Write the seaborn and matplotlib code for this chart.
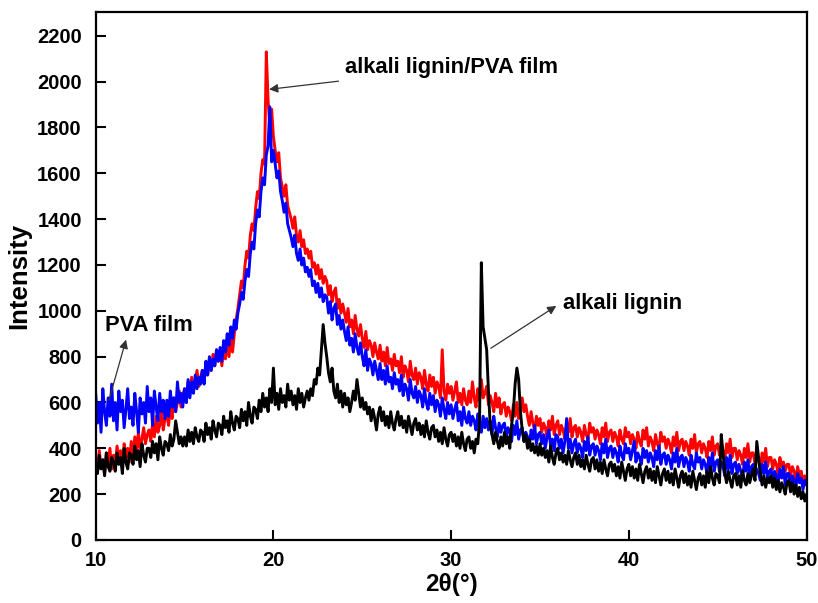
import numpy as np
import pandas as pd
import seaborn as sns
import matplotlib
matplotlib.use("Agg")
import matplotlib.pyplot as plt

two_theta = np.round(np.arange(10, 50.001, 0.1), 2)

# PVA film (blue), one row per degree
pva_film = [
    640, 510, 600, 470, 660, 560, 500, 620, 540, 680,
    520, 600, 480, 650, 560, 610, 490, 570, 660, 530,
    580, 500, 640, 560, 470, 620, 550, 600, 510, 670,
    560, 620, 500, 650, 580, 520, 640, 560, 610, 530,
    610, 540, 650, 580, 620, 560, 690, 600, 640, 580,
    660, 600, 700, 620, 690, 640, 720, 660, 710, 680,
    740, 680, 780, 720, 800, 740, 790, 760, 830, 780,
    840, 780, 870, 820, 900, 850, 930, 880, 960, 920,
    990, 1030, 1080, 1050, 1130, 1180, 1150, 1250, 1300, 1270,
    1380, 1440, 1410, 1520, 1580, 1550, 1680, 1720, 1890, 1650,
    1700, 1640, 1580, 1610, 1520, 1480, 1430, 1470, 1380, 1350,
    1320, 1280, 1330, 1250, 1220, 1270, 1200, 1230, 1170, 1190,
    1150, 1180, 1110, 1130, 1080, 1120, 1060, 1100, 1040, 1070,
    1060, 990, 1040, 960, 1010, 1030, 940, 980, 920, 960,
    910, 870, 930, 850, 880, 820, 900, 840, 810, 860,
    800, 760, 830, 740, 790, 770, 720, 780, 740, 700,
    770, 700, 740, 680, 760, 690, 710, 660, 730, 680,
    700, 650, 720, 630, 680, 660, 610, 700, 640, 620,
    670, 600, 650, 630, 580, 660, 600, 570, 640, 590,
    630, 560, 610, 590, 540, 620, 570, 530, 600, 550,
    590, 530, 570, 600, 520, 560, 500, 580, 530, 510,
    560, 500, 540, 520, 480, 550, 500, 470, 540, 490,
    530, 480, 520, 460, 540, 490, 450, 510, 470, 500,
    510, 450, 490, 470, 430, 500, 460, 520, 440, 480,
    490, 430, 470, 450, 410, 480, 440, 500, 420, 460,
    470, 420, 460, 400, 450, 480, 410, 440, 390, 460,
    450, 400, 440, 380, 430, 530, 400, 440, 380, 420,
    440, 380, 420, 400, 360, 430, 390, 450, 370, 410,
    420, 370, 410, 390, 350, 420, 380, 440, 360, 400,
    410, 360, 400, 380, 340, 410, 370, 350, 420, 380,
    400, 350, 390, 430, 340, 380, 360, 330, 400, 360,
    390, 340, 380, 360, 320, 390, 350, 410, 330, 370,
    380, 330, 370, 350, 310, 380, 340, 400, 320, 360,
    370, 320, 360, 340, 300, 370, 330, 310, 380, 340,
    360, 310, 350, 330, 290, 360, 320, 380, 300, 340,
    350, 300, 340, 320, 280, 360, 310, 370, 290, 330,
    340, 290, 330, 300, 270, 340, 300, 350, 280, 320,
    330, 280, 310, 290, 260, 330, 290, 340, 270, 300,
    310, 260, 300, 280, 250, 310, 270, 320, 240, 290,
    290, 240, 280, 260, 230, 290, 250, 270, 220, 260,
    240,
]

# alkali lignin/PVA film (red)
lignin_pva_film = [
    360, 300, 390, 320, 350, 290, 380, 330, 400, 310,
    370, 330, 410, 350, 390, 320, 420, 360, 400, 340,
    430, 370, 450, 390, 470, 400, 440, 490, 420, 460,
    480, 430, 510, 450, 540, 470, 500, 560, 480, 530,
    550, 500, 580, 530, 620, 560, 600, 650, 580, 630,
    660, 600, 690, 640, 710, 650, 690, 740, 670, 710,
    740, 690, 770, 720, 790, 740, 810, 760, 830, 780,
    830, 760, 850, 790, 870, 800, 880, 820, 900, 960,
    1010, 1070, 1130, 1100, 1200, 1260, 1230, 1330, 1380, 1350,
    1450, 1520, 1490, 1600, 1660, 1640, 2130, 1920, 1800, 1880,
    1760, 1700, 1650, 1690, 1580, 1540, 1500, 1550, 1460, 1430,
    1400, 1360, 1410, 1330, 1300, 1350, 1280, 1310, 1250, 1270,
    1230, 1260, 1190, 1210, 1160, 1200, 1140, 1180, 1120, 1150,
    1130, 1070, 1110, 1040, 1080, 1100, 1010, 1050, 990, 1030,
    990, 950, 1010, 930, 960, 900, 980, 920, 890, 940,
    880, 840, 910, 830, 870, 850, 800, 860, 820, 790,
    850, 780, 820, 760, 840, 770, 790, 740, 810, 760,
    780, 730, 800, 710, 760, 740, 690, 780, 720, 700,
    750, 680, 730, 710, 660, 740, 680, 650, 720, 670,
    710, 640, 690, 670, 620, 830, 650, 610, 680, 640,
    670, 610, 650, 690, 600, 640, 590, 660, 610, 590,
    650, 600, 690, 620, 580, 660, 610, 700, 620, 640,
    670, 590, 630, 600, 560, 640, 580, 620, 550, 590,
    600, 540, 580, 560, 520, 590, 540, 600, 530, 570,
    620, 560, 590, 540, 500, 560, 510, 480, 540, 500,
    530, 470, 510, 490, 450, 520, 480, 540, 460, 500,
    520, 460, 500, 480, 440, 510, 470, 530, 450, 490,
    500, 450, 490, 470, 430, 500, 460, 440, 510, 470,
    490, 440, 480, 460, 420, 490, 450, 510, 430, 470,
    480, 430, 470, 450, 410, 480, 440, 420, 490, 450,
    470, 420, 460, 440, 400, 470, 430, 410, 480, 440,
    490, 410, 450, 430, 390, 460, 420, 400, 470, 430,
    450, 400, 440, 420, 380, 450, 410, 470, 390, 430,
    440, 390, 430, 410, 370, 440, 400, 460, 380, 420,
    430, 380, 420, 400, 360, 430, 390, 450, 370, 410,
    420, 370, 410, 390, 350, 420, 380, 440, 360, 400,
    400, 350, 390, 370, 330, 400, 360, 420, 340, 380,
    380, 330, 370, 350, 310, 380, 340, 400, 320, 360,
    360, 310, 350, 330, 290, 360, 320, 340, 300, 330,
    330, 280, 320, 300, 260, 320, 280, 300, 250, 280,
    240,
]

# alkali lignin (black)
alkali_lignin = [
    330, 290, 370, 310, 350, 280, 380, 320, 300, 360,
    340, 300, 380, 330, 360, 290, 400, 340, 310, 380,
    370, 330, 410, 350, 390, 320, 420, 370, 340, 400,
    400, 360, 430, 380, 420, 350, 450, 400, 370, 430,
    420, 390, 460, 410, 440, 520, 470, 420, 450, 410,
    450, 410, 480, 430, 470, 420, 490, 450, 430, 480,
    470, 430, 510, 460, 490, 440, 520, 480, 450, 510,
    500, 460, 540, 490, 520, 470, 560, 510, 480, 540,
    530, 490, 570, 520, 560, 500, 600, 540, 510, 580,
    570, 530, 610, 560, 640, 580, 620, 560, 660, 600,
    750, 590, 640, 570, 660, 600, 630, 580, 680, 610,
    650, 590, 630, 570, 660, 600, 640, 580, 620, 650,
    610, 660, 630, 700, 680, 750, 720, 830, 940, 860,
    800, 730, 690, 750, 650, 620, 680, 600, 650, 580,
    640, 590, 620, 560, 600, 650, 610, 700, 640, 580,
    620, 570, 600, 550, 580, 520, 570, 530, 480, 550,
    580, 520, 560, 500, 540, 490, 560, 510, 480, 530,
    560, 500, 540, 490, 520, 470, 540, 500, 460, 510,
    530, 480, 510, 460, 500, 450, 520, 470, 440, 490,
    500, 450, 480, 430, 470, 420, 490, 440, 410, 460,
    470, 430, 460, 410, 450, 400, 470, 420, 390, 440,
    450, 400, 430, 380, 440, 420, 520, 1210, 930, 880,
    830, 650, 500, 460, 420, 470, 430, 400, 450, 410,
    470, 420, 450, 400, 500, 560, 680, 750, 700, 560,
    480, 430, 460, 400, 440, 390, 420, 380, 410, 370,
    420, 370, 400, 360, 390, 340, 410, 360, 330, 380,
    400, 350, 380, 340, 370, 330, 390, 350, 320, 360,
    380, 330, 370, 320, 350, 310, 370, 330, 300, 350,
    360, 310, 350, 300, 340, 290, 350, 310, 280, 330,
    340, 300, 330, 280, 320, 270, 340, 300, 260, 310,
    330, 280, 320, 270, 310, 260, 330, 290, 250, 300,
    320, 270, 310, 260, 300, 250, 320, 280, 240, 290,
    310, 260, 300, 250, 290, 240, 310, 270, 230, 280,
    300, 250, 290, 240, 280, 230, 300, 260, 220, 270,
    290, 240, 280, 230, 300, 250, 320, 270, 240, 290,
    280, 250, 460, 380, 290, 250, 300, 260, 230, 280,
    290, 240, 280, 230, 300, 260, 240, 290, 250, 280,
    310, 260, 430, 360, 290, 240, 280, 230, 270, 250,
    280, 230, 270, 220, 260, 210, 250, 230, 200, 250,
    260, 210, 250, 200, 240, 190, 230, 180, 210, 170,
    200,
]

n = len(two_theta)
df = pd.DataFrame({
    "theta": np.tile(two_theta, 3),
    "intensity": lignin_pva_film + pva_film + alkali_lignin,
    "sample": ["alkali lignin/PVA film"] * n + ["PVA film"] * n
              + ["alkali lignin"] * n,
})

sns.set_style("ticks")
plt.rcParams["font.family"] = ["Liberation Sans", "DejaVu Sans"]
plt.rcParams["font.weight"] = "bold"
plt.rcParams["text.color"] = "black"
plt.rcParams["axes.labelcolor"] = "black"
plt.rcParams["xtick.color"] = "black"
plt.rcParams["ytick.color"] = "black"

fig = plt.figure(figsize=(8.18, 6.03), dpi=100)
ax = fig.add_axes([0.117, 0.1045, 0.869, 0.876])

sns.lineplot(data=df, x="theta", y="intensity", hue="sample",
             palette={"alkali lignin/PVA film": "#ff0000",
                      "PVA film": "#0000ff",
                      "alkali lignin": "#000000"},
             estimator=None, sort=False, linewidth=2.1, legend=False, ax=ax)

ax.set_xlim(10, 50)
ax.set_ylim(0, 2305)
ax.set_xticks([10, 20, 30, 40, 50])
ax.set_yticks(range(0, 2201, 200))
ax.tick_params(direction="in", length=7, width=1.5, labelsize=14.5, pad=8)
ax.tick_params(axis="y", pad=10)
for s in ax.spines.values():
    s.set_linewidth(1.6)
    s.set_color("black")
ax.set_xlabel("2θ(°)", fontsize=17.5, fontweight="bold", labelpad=2)
ax.set_ylabel("Intensity", fontsize=18.5, fontweight="bold", labelpad=4)

arrow = dict(arrowstyle="-|>", color="#333333", lw=0.9, mutation_scale=13)
ax.annotate("alkali lignin/PVA film", xy=(19.6, 1965), xytext=(24.0, 2060),
            fontsize=15.8, fontweight="bold", va="center", ha="left",
            arrowprops=arrow)
ax.annotate("", xy=(36.05, 1028), xytext=(32.1, 830), arrowprops=arrow)
ax.text(36.3, 1030, "alkali lignin", fontsize=15.8, fontweight="bold", va="center")
ax.annotate("", xy=(11.75, 886), xytext=(10.7, 598), arrowprops=arrow)
ax.text(10.5, 936, "PVA film", fontsize=15.8, fontweight="bold", va="center")

fig.savefig("out.png", dpi=100)
